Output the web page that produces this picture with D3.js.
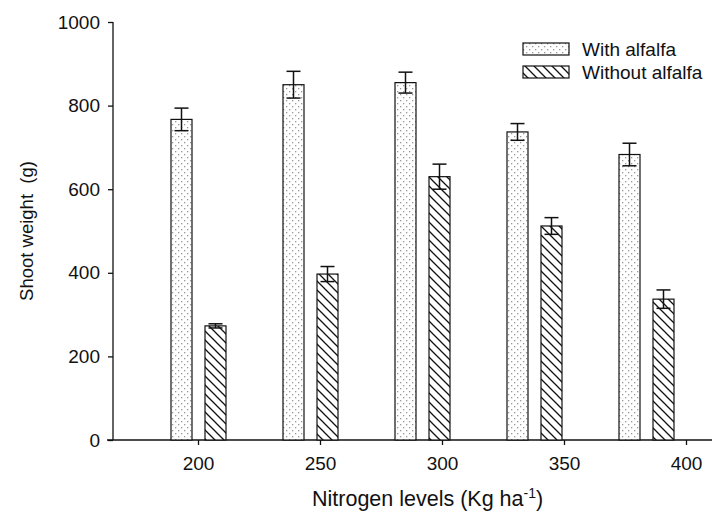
<!DOCTYPE html>
<html>
<head>
<meta charset="utf-8">
<script src="https://cdn.jsdelivr.net/npm/d3@7"></script>
<style>
  body { margin: 0; background: #fff; }
  text { font-family: "Liberation Sans", Arial, sans-serif; fill: #111; }
</style>
</head>
<body>
<script>
// nitrogen levels (Kg ha-1)
const levels = [200, 250, 300, 350, 400];
const withAlfalfa = [767, 850, 855, 737, 683];
const withErr = [27, 32, 25, 20, 27];
const withoutAlfalfa = [273, 397, 630, 512, 337];
const withoutErr = [5, 18, 30, 20, 22];
const yTicks = [0, 200, 400, 600, 800, 1000];
const seriesNames = ['With alfalfa', 'Without alfalfa'];

const W = 722, H = 519;

let svg = d3.select('body').append('svg')
  .attr('width', W)
  .attr('height', H);

let defs = svg.append('defs');

// sparse grey dots
let dots = defs.append('pattern')
  .attr('id', 'dots')
  .attr('patternUnits', 'userSpaceOnUse')
  .attr('width', 6)
  .attr('height', 6);
dots.append('rect').attr('width', 6).attr('height', 6).attr('fill', '#fff');
dots.append('rect').attr('x', 1).attr('y', 1).attr('width', 1.3).attr('height', 1.3).attr('fill', '#999');
dots.append('rect').attr('x', 4).attr('y', 4).attr('width', 1.3).attr('height', 1.3).attr('fill', '#999');

// back-slash hatching
let hatch = defs.append('pattern')
  .attr('id', 'hatch')
  .attr('patternUnits', 'userSpaceOnUse')
  .attr('width', 9)
  .attr('height', 9);
hatch.append('rect').attr('width', 9).attr('height', 9).attr('fill', '#fff');
hatch.append('path')
  .attr('d', 'M-2,-2 L11,11 M-2,7 L2,11 M7,-2 L11,2')
  .attr('stroke', '#111')
  .attr('stroke-width', 1.3);

// bar groups and axis ticks don't share spacing in the original figure
let x = d3.scaleLinear().domain([200, 400]).range([198.5, 646.5]);
let xTick = d3.scaleLinear().domain([200, 400]).range([198, 686]);
let y = d3.scaleLinear().domain([0, 1000]).range([440, 22]);

const barW = 21, gap = 13;

// axes
let yAxis = svg.append('g')
  .attr('transform', 'translate(113,0)')
  .call(d3.axisLeft(y).tickValues(yTicks).tickFormat(d3.format('d')).tickSize(5).tickPadding(8));
yAxis.select('.domain').remove();
yAxis.append('line')
  .attr('x1', 0).attr('x2', 0)
  .attr('y1', y(0)).attr('y2', y(1000))
  .attr('stroke', '#111').attr('stroke-width', 1.3);

let xAxis = svg.append('g')
  .attr('transform', 'translate(0,440)')
  .call(d3.axisBottom(xTick).tickValues(levels).tickFormat(d3.format('d')).tickSize(5).tickPadding(12));
xAxis.select('.domain').remove();
xAxis.append('line')
  .attr('x1', 107).attr('x2', 712)
  .attr('y1', 0).attr('y2', 0)
  .attr('stroke', '#111').attr('stroke-width', 1.3);

svg.selectAll('.tick line').attr('stroke', '#111').attr('stroke-width', 1.3);
svg.selectAll('.tick text')
  .attr('font-size', 19)
  .style('font-family', '"Liberation Sans", Arial, sans-serif')
  .attr('fill', '#111');

// bars
const series = [
  { vals: withAlfalfa, err: withErr, fill: 'url(#dots)', off: -(gap / 2 + barW) },
  { vals: withoutAlfalfa, err: withoutErr, fill: 'url(#hatch)', off: gap / 2 }
];

series.forEach(s => {
  let g = svg.append('g');
  g.selectAll('rect')
    .data(levels)
    .enter().append('rect')
    .attr('x', (d) => x(d) + s.off)
    .attr('y', (d, i) => y(s.vals[i]))
    .attr('width', barW)
    .attr('height', (d, i) => y(0) - y(s.vals[i]))
    .attr('fill', s.fill)
    .attr('stroke', '#111')
    .attr('stroke-width', 1.2);

  // error bars
  let eb = g.selectAll('g.err')
    .data(levels)
    .enter().append('g')
    .attr('stroke', '#111')
    .attr('stroke-width', 1.5);
  eb.append('line')
    .attr('x1', (d) => x(d) + s.off + barW / 2)
    .attr('x2', (d) => x(d) + s.off + barW / 2)
    .attr('y1', (d, i) => y(s.vals[i] + s.err[i]))
    .attr('y2', (d, i) => y(s.vals[i] - s.err[i]));
  [1, -1].forEach(sign => {
    eb.append('line')
      .attr('x1', (d) => x(d) + s.off + barW / 2 - 7)
      .attr('x2', (d) => x(d) + s.off + barW / 2 + 7)
      .attr('y1', (d, i) => y(s.vals[i] + sign * s.err[i]))
      .attr('y2', (d, i) => y(s.vals[i] + sign * s.err[i]));
  });
});

// legend
let legend = svg.append('g');
const legFills = ['url(#dots)', 'url(#hatch)'];
seriesNames.forEach((name, i) => {
  legend.append('rect')
    .attr('x', 523)
    .attr('y', 43 + i * 23)
    .attr('width', 46)
    .attr('height', 12)
    .attr('fill', legFills[i])
    .attr('stroke', '#111')
    .attr('stroke-width', 1.2);
  legend.append('text')
    .attr('x', 582)
    .attr('y', 56 + i * 23)
    .attr('font-size', 19)
    .text(name);
});

// axis titles
svg.append('text')
  .attr('transform', 'translate(33,231) rotate(-90)')
  .attr('text-anchor', 'middle')
  .attr('font-size', 18.5)
  .attr('xml:space', 'preserve')
  .style('white-space', 'pre')
  .text('Shoot weight  (g)');

let xt = svg.append('text')
  .attr('x', 312)
  .attr('y', 506)
  .attr('font-size', 21.5);
xt.append('tspan').text('Nitrogen levels (Kg ha');
xt.append('tspan').attr('dy', -8).attr('font-size', 14).text('-1');
xt.append('tspan').attr('dy', 8).text(')');
</script>
</body>
</html>
